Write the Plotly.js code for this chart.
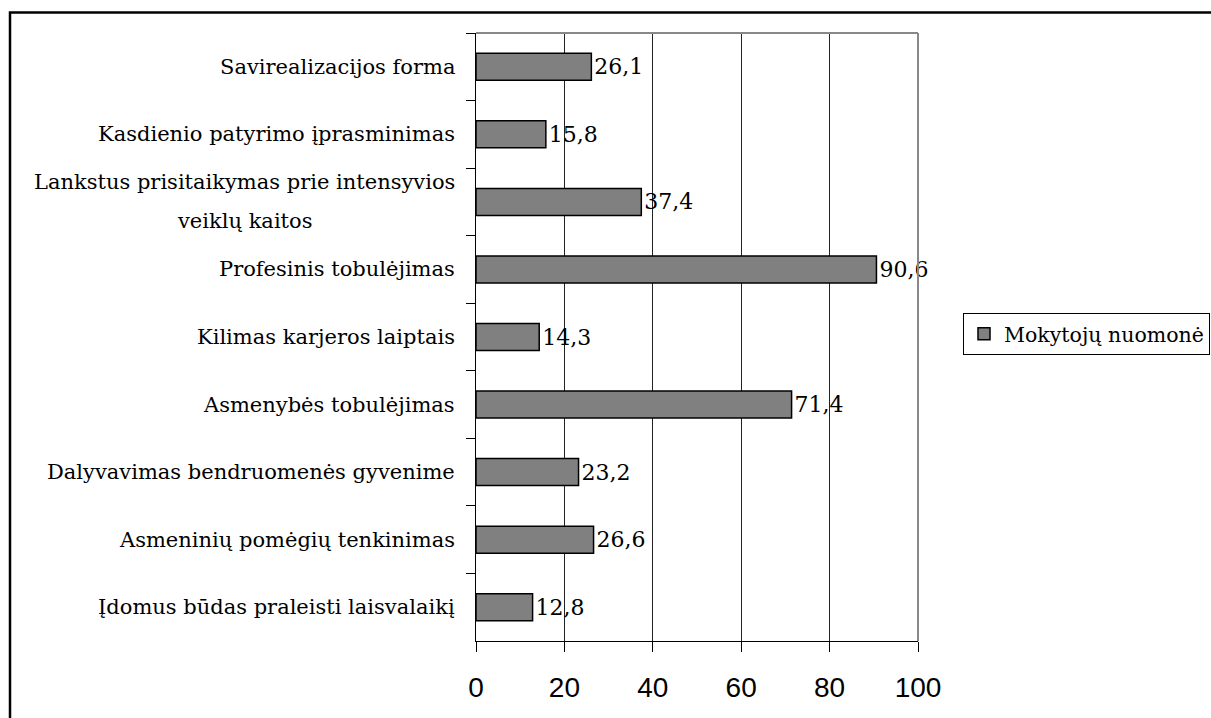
<!DOCTYPE html>
<html>
<head>
<meta charset="utf-8">
<script src="https://cdn.plot.ly/plotly-3.0.1.min.js"></script>
<style>
html,body{margin:0;padding:0;background:#fff;overflow:hidden;}
#chart{width:1211px;height:718px;}
</style>
</head>
<body>
<div id="chart"></div>
<script>
const categories = [
  "Savirealizacijos forma",
  "Kasdienio patyrimo įprasminimas",
  "Lankstus prisitaikymas prie intensyvios<br>veiklų kaitos",
  "Profesinis tobulėjimas",
  "Kilimas karjeros laiptais",
  "Asmenybės tobulėjimas",
  "Dalyvavimas bendruomenės gyvenime",
  "Asmeninių pomėgių tenkinimas",
  "Įdomus būdas praleisti laisvalaikį"
];
const values = [26.1, 15.8, 37.4, 90.6, 14.3, 71.4, 23.2, 26.6, 12.8];
const seriesName = "Mokytojų nuomonė";
const xTicks = [0, 20, 40, 60, 80, 100];

// plot area geometry (px)
const L = 476, R = 918, T = 33, B = 641, W = 1211, H = 718;
const pw = R - L, ph = B - T;
const px = v => (v - L) / pw;
const py = v => (B - v) / ph;

const serif = '"DejaVu Serif", "Liberation Serif", serif';
const sans = '"Liberation Sans", Arial, sans-serif';
const catSize = 21;
const lineGap = 39;

const trace = {
  type: "bar",
  orientation: "h",
  x: values,
  y: categories,
  name: seriesName,
  width: 0.4,
  marker: {color: "#808080", line: {color: "#000000", width: 1.5}},
  text: values.map(v => v.toFixed(1).replace(".", ",")),
  textposition: "outside",
  textfont: {family: serif, size: 22, color: "#000"},
  constraintext: "none",
  cliponaxis: false,
  hoverinfo: "none",
  showlegend: true
};

// category labels: lines centred on each other, block right-aligned to the axis
const ctx = document.createElement("canvas").getContext("2d");
ctx.font = catSize + "px " + serif;
const annotations = [];
categories.forEach((c, i) => {
  const lines = c.split("<br>");
  const widths = lines.map(s => ctx.measureText(s).width);
  const maxW = Math.max(...widths);
  lines.forEach((s, j) => {
    annotations.push({
      xref: "paper", yref: "y",
      x: 0, y: i,
      xanchor: "right", yanchor: "middle",
      xshift: -19 - (maxW - widths[j]) / 2,
      yshift: ((lines.length - 1) / 2 - j) * lineGap,
      showarrow: false,
      text: s,
      font: {family: serif, size: catSize, color: "#000"}
    });
  });
});

const layout = {
  width: W, height: H,
  margin: {l: L, r: W - R, t: T, b: H - B, pad: 0, autoexpand: false},
  paper_bgcolor: "#fff",
  plot_bgcolor: "#fff",
  separators: ", ",
  showlegend: true,
  legend: {
    x: px(963), y: py(313), xanchor: "left", yanchor: "top",
    bordercolor: "#000", borderwidth: 1,
    font: {family: serif, size: 20.5, color: "#000"},
    bgcolor: "#fff"
  },
  xaxis: {
    range: [0, 100],
    tickvals: xTicks,
    ticktext: xTicks.map(String),
    ticks: "outside", ticklen: 10, tickwidth: 1, tickcolor: "#000",
    ticklabelstandoff: 11,
    showline: true, linecolor: "#000", linewidth: 1,
    showgrid: true, gridcolor: "#222", gridwidth: 1,
    zeroline: false,
    tickfont: {family: sans, size: 28, color: "#000"},
    fixedrange: true
  },
  yaxis: {
    type: "category",
    categoryorder: "array", categoryarray: categories,
    autorange: "reversed",
    showticklabels: false,
    ticks: "outside", ticklen: 9, tickwidth: 1, tickcolor: "#000",
    tickson: "boundaries",
    showline: true, linecolor: "#000", linewidth: 1,
    showgrid: false, zeroline: false,
    fixedrange: true
  },
  annotations: annotations,
  shapes: [
    {type: "line", xref: "paper", yref: "paper", x0: 0, x1: 1, y0: 1, y1: 1,
     line: {color: "#888", width: 2}, layer: "above"},
    {type: "line", xref: "paper", yref: "paper", x0: 1, x1: 1, y0: 0, y1: 1,
     line: {color: "#888", width: 2}, layer: "above"},
    {type: "rect", xref: "paper", yref: "paper",
     x0: px(10), x1: px(1230), y0: py(740), y1: py(12.5),
     line: {color: "#000", width: 2.5}, fillcolor: "rgba(0,0,0,0)", layer: "below"}
  ]
};

Plotly.newPlot("chart", [trace], layout, {staticPlot: true, displayModeBar: false});
</script>
</body>
</html>
